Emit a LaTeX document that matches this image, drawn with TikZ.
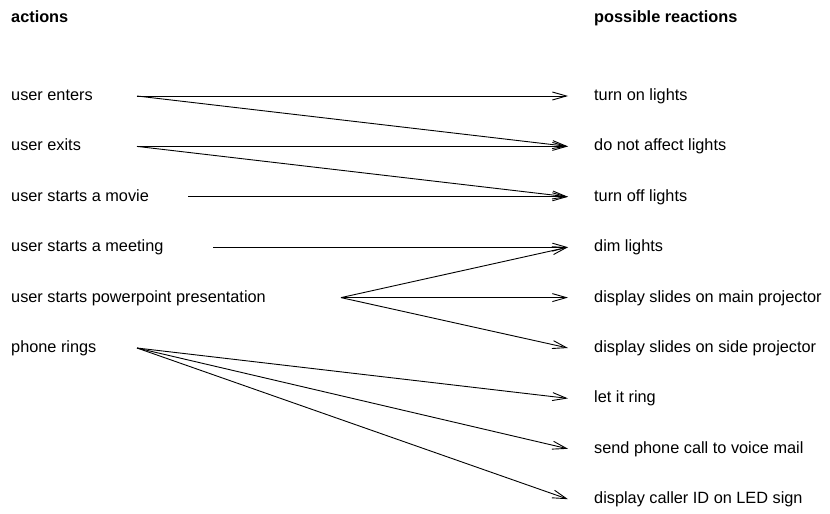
\documentclass[tikz,border=0pt]{standalone}
\usepackage{fontspec}
\setmainfont{Liberation Sans}
\usetikzlibrary{arrows.meta}

\begin{document}
\begin{tikzpicture}[x=1pt,y=-1pt,
  lbl/.style={anchor=base west,inner sep=0pt,font=\fontsize{16.3}{19}\selectfont},
  head/.style={lbl,font=\fontsize{16.3}{19}\selectfont\bfseries},
  link/.style={line width=0.9pt,-{Straight Barb[length=14pt,width=8pt,line width=0.9pt]}}]
\useasboundingbox (0,0) rectangle (830,514);
% headings
\node[head] (acts) at (11,23) {actions};
\node[head] (reacts) at (594,23) {possible reactions};
% actions, with the start of their lines
\foreach \i/\t/\s in {1/user enters/137,2/user exits/137,3/user starts a movie/188,
  4/user starts a meeting/213,5/user starts powerpoint presentation/341,6/phone rings/137} {
  \node[lbl] (a\i) at (11,{96+50.4*(\i-1)+4.5}) {\t};
  \coordinate (s\i) at (\s,{96+50.4*(\i-1)});
}
% reactions, with the tip of their arrows
\foreach \i/\t in {1/turn on lights,2/do not affect lights,3/turn off lights,4/dim lights,
  5/display slides on main projector,6/display slides on side projector,7/let it ring,
  8/send phone call to voice mail,9/display caller ID on LED sign} {
  \node[lbl] (r\i) at (594,{96+50.4*(\i-1)+4.5}) {\t};
  \coordinate (e\i) at (568,{96+50.4*(\i-1)});
}
% links
\foreach \a/\b in {1/1,1/2,2/2,2/3,3/3,4/4,5/4,5/5,5/6,6/7,6/8,6/9}
  \draw[link] (s\a) -- (e\b);
\end{tikzpicture}
\end{document}
